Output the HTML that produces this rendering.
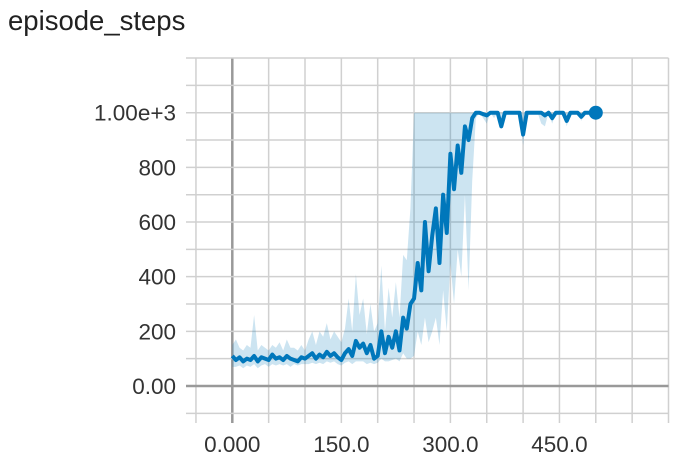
<!DOCTYPE html>
<html><head><meta charset="utf-8"><style>
body{margin:0;background:#fff;width:694px;height:470px;overflow:hidden;font-family:"Liberation Sans",sans-serif}
</style></head><body>
<svg width="694" height="470">
<text x="8" y="30" font-size="27.5" fill="#212121">episode_steps</text>
<g id="grid"></g><g id="band"></g><g id="line"></g><g id="labels"></g>
</svg>
<script>
const steps = [];
for (let s = 0; s <= 500; s += 5) steps.push(s);
const smoothed = [110,95,105,90,100,95,110,90,105,100,95,
115,100,105,95,110,100,95,90,105,100,
110,120,100,115,105,125,110,120,105,95,
120,135,110,165,140,155,120,150,100,110,
200,120,180,140,200,130,250,210,300,320,
450,350,600,420,550,650,450,700,560,850,
720,880,780,950,900,980,1000,1000,995,990,
1000,1000,1000,950,1000,1000,1000,1000,1000,920,
1000,1000,1000,1000,1000,990,1000,980,1000,1000,
1000,970,1000,1000,1000,985,1000,1000,1000,1000];
const bandLo = [70,70,75,65,75,70,80,65,75,80,70,
80,75,80,75,80,70,80,75,80,80,
80,85,80,85,80,90,85,90,80,75,
85,90,80,90,90,90,80,85,80,85,
100,90,90,95,100,90,120,100,100,110,
200,150,250,160,200,250,150,350,200,450,
300,500,400,700,350,750,980,1000,980,960,
1000,980,1000,940,1000,1000,1000,1000,1000,880,
1000,1000,1000,1000,960,950,1000,960,1000,1000,
1000,950,1000,1000,1000,970,1000,1000,1000,1000];
const bandHi = [150,170,140,130,150,140,260,130,150,140,130,
150,140,160,130,170,140,140,130,150,130,
170,200,150,200,180,230,170,200,180,160,
210,320,200,410,260,320,190,300,200,230,
440,200,360,250,380,250,480,460,650,1000,
1000,1000,1000,1000,1000,1000,1000,1000,1000,1000,
1000,1000,1000,1000,1000,1000,1000,1000,1000,1000,
1000,1000,1000,1000,1000,1000,1000,1000,1000,1000,
1000,1000,1000,1000,1000,1000,1000,1000,1000,1000,
1000,1000,1000,1000,1000,1000,1000,1000,1000,1000];
const xTicks = [-50,0,50,100,150,200,250,300,350,400,450,500,550,600];
const xTickLabels = ["0.000","150.0","300.0","450.0"];
const xLabelVals = [0,150,300,450];
const yTicks = [-100,0,100,200,300,400,500,600,700,800,900,1000,1100,1200];
const yLabelVals = [0,200,400,600,800,1000];
const yTickLabels = ["0.00","200","400","600","800","1.00e+3"];

const X = v => 232.3 + v * 36.35 / 50;
const Y = v => 386 - v * 27.33 / 100;
const NS = "http://www.w3.org/2000/svg";
function mk(tag, attrs, parent){const e=document.createElementNS(NS,tag);for(const k in attrs)e.setAttribute(k,attrs[k]);document.getElementById(parent).appendChild(e);return e;}

xTicks.forEach(t=>{
  const l=mk('line',{x1:X(t),x2:X(t),y1:Y(1200),y2:423,stroke:t===0?'#999':'#d0d0d0','stroke-width':t===0?2.5:1.5},'grid');
  
  
});
yTicks.forEach(t=>{
  const l=mk('line',{x1:186,x2:X(600),y1:Y(t),y2:Y(t),stroke:t===0?'#999':'#d0d0d0','stroke-width':t===0?2.5:1.5},'grid');
  
  
});
let d='';
steps.forEach((s,i)=>{d+=(i?'L':'M')+X(s)+','+Y(bandHi[i]);});
for(let i=steps.length-1;i>=0;i--)d+='L'+X(steps[i])+','+Y(bandLo[i]);
const band=mk('path',{d:d+'Z',fill:'rgba(0,119,187,0.2)'},'band');


const ld=steps.map((s,i)=>(i?'L':'M')+X(s)+','+Y(smoothed[i])).join('');
const ln=mk('path',{d:ld,fill:'none',stroke:'#0077bb','stroke-width':4,'stroke-linejoin':'round'},'line');


const last=steps.length-1;
const dot=mk('circle',{cx:X(steps[last]),cy:Y(smoothed[last]),r:7,fill:'#0077bb'},'line');


xLabelVals.forEach((v,i)=>{
  const t=mk('text',{x:X(v),y:452,'text-anchor':'middle','font-size':22.5,fill:'#333'},'labels');
  t.textContent=xTickLabels[i];
  
  
});
yLabelVals.forEach((v,i)=>{
  const t=mk('text',{x:176,y:Y(v)+8,'text-anchor':'end','font-size':22.5,fill:'#333'},'labels');
  t.textContent=yTickLabels[i];
  
  
});
</script>
</body></html>
